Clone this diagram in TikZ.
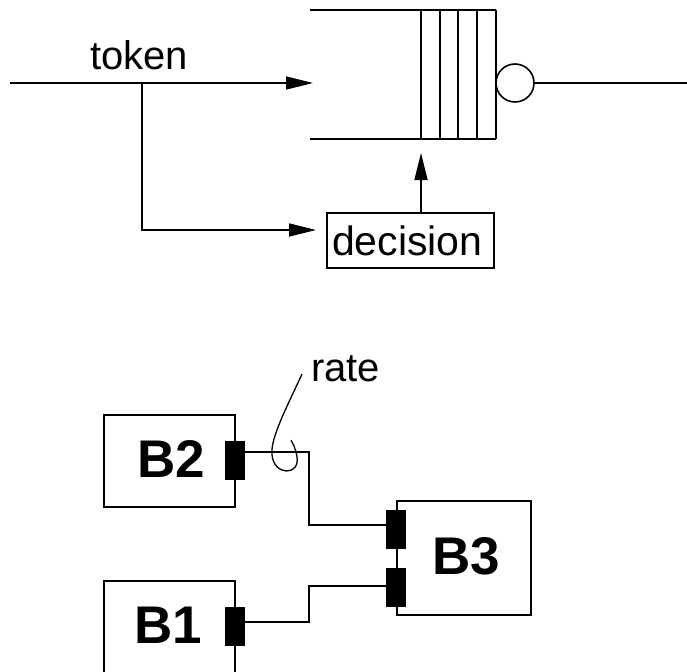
\documentclass[tikz,border=0pt]{standalone}
\usepackage{fontspec}
\setmainfont{Liberation Sans}
\usetikzlibrary{arrows.meta,calc}
\begin{document}
\begin{tikzpicture}[x=1pt,y=-1pt,
  ln/.style={line width=1.6pt},
  arr/.style={ln,-{Triangle[length=27pt,width=13pt]}},
  lbl/.style={font=\fontsize{40}{48}\selectfont,inner sep=0pt},
  blbl/.style={font=\fontsize{53}{60}\selectfont\bfseries,inner sep=0pt},
  port/.style={draw,fill=black,line width=1pt,minimum width=19pt,minimum height=38pt,inner sep=0pt},
  boxx/.style={draw,line width=1.6pt,inner sep=0pt}]
\useasboundingbox (0,0) rectangle (687,671);
\clip (0,0) rectangle (687,671);
% queue
\draw[ln] (310,10) -- (496,10);
\draw[ln] (310,139) -- (496,139);
\foreach \xx in {421,440,458,477,496} \draw[ln] (\xx,10) -- (\xx,139);
\node[draw,circle,ln,minimum size=38pt,inner sep=0pt] (srv) at (515,83) {};
\coordinate (out) at (687,83);
\draw[ln] (srv.east) -- (out);
\coordinate (in) at (10,83);
\coordinate (qin) at (313,83);
\coordinate (br) at (142,83);
\draw[arr] (in) -- (qin);
\node[lbl,anchor=base west] (tok) at (90,70) {token};
\node[draw,ln,font=\fontsize{41}{48}\selectfont,text width=157pt,align=left,inner xsep=5pt,inner ysep=0pt,minimum height=55pt] (dec) at (410.5,240.5) {decision};
\coordinate (dtip) at (316,230);
\draw[arr] (br) |- (dtip);
\coordinate (qb) at (421,153);
\draw[arr] (dec.north -| qb) -- (qb);
% blocks
\draw[boxx] (104,415) rectangle (235,507);
\node[blbl] (b2) at (171,459) {B2};
\draw[boxx] (397,501) rectangle (531,615);
\node[blbl] (b3) at (466,556) {B3};
\draw[boxx] (104,700) -- (104,581) -- (235,581) -- (235,700);
\node[blbl] (b1) at (168,625) {B1};
\node[port] (p2) at (235,460) {};
\node[port] (p3a) at (396,529) {};
\node[port] (p3b) at (396,587) {};
\node[port] (p1) at (235,626) {};
\draw[ln] ([yshift=8pt]p2.east) -- (309,452) -- (309,525) -- ([yshift=4pt]p3a.west);
\draw[ln] ([yshift=4pt]p1.east) -- (309,622) -- (309,586) -- ([yshift=1pt]p3b.west);
\node[lbl,anchor=base west] (rate) at (311,381) {rate};
\draw[line width=1.3pt] (302,374) .. controls (288,405) and (270,438) .. (272,455)
  .. controls (274,476) and (300,476) .. (297,457)
  .. controls (296,449) and (293,444) .. (291,440);
\end{tikzpicture}
\end{document}
